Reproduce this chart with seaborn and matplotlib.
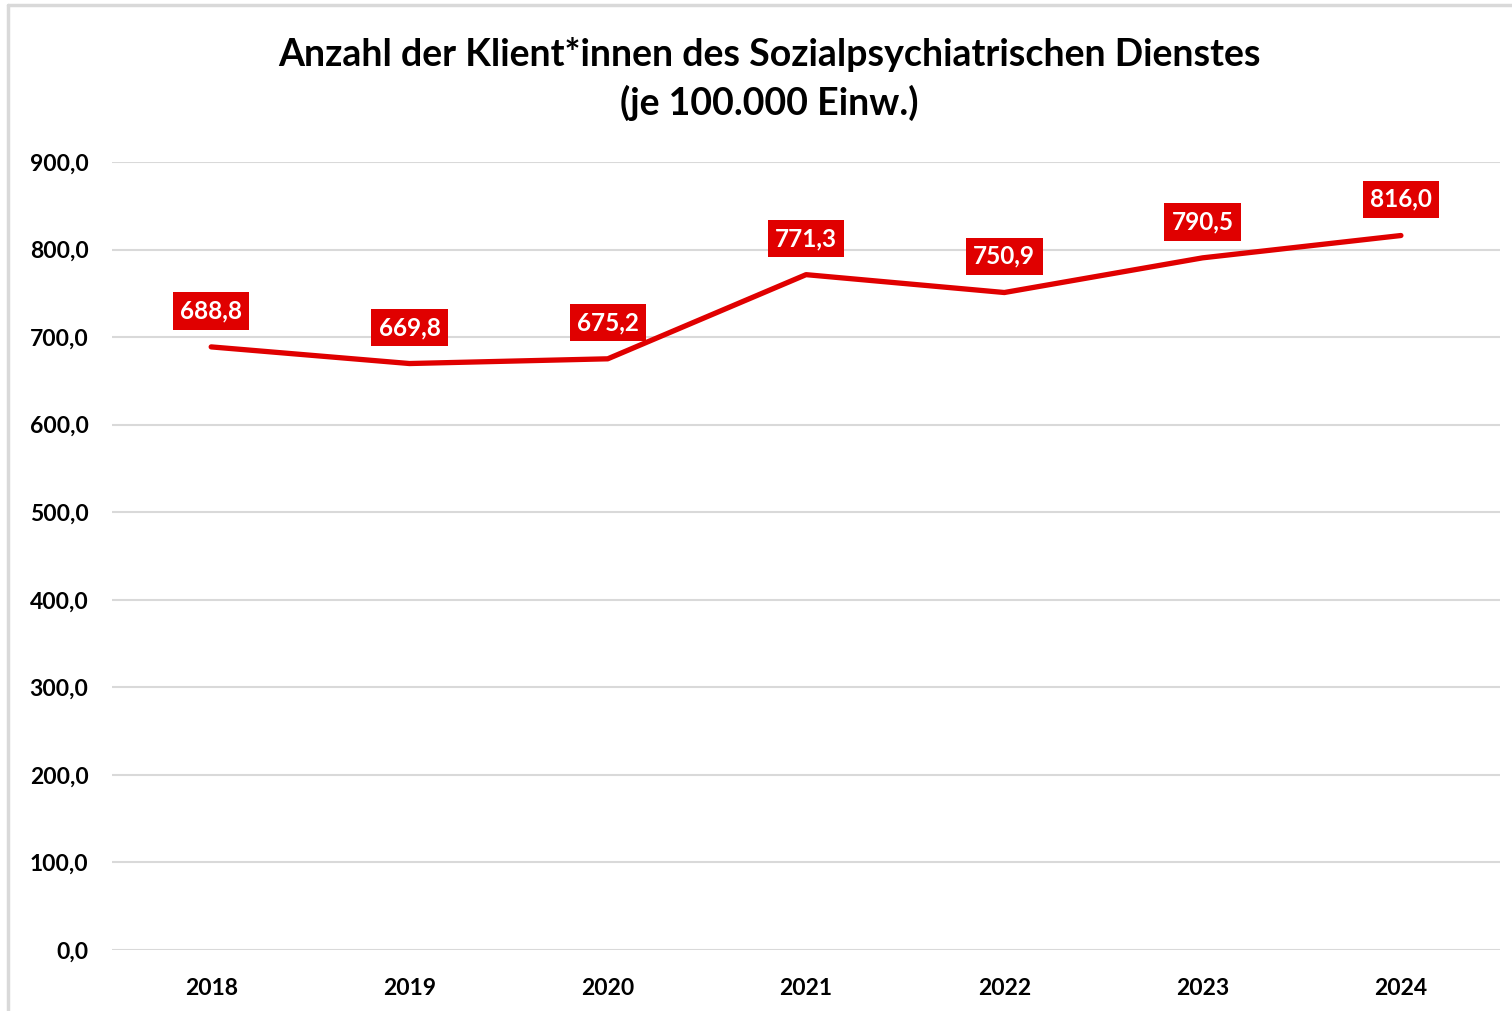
import matplotlib
matplotlib.use("Agg")
import matplotlib.pyplot as plt
import seaborn as sns
import pandas as pd
from matplotlib.lines import Line2D

# Daten
jahre = ["2018", "2019", "2020", "2021", "2022", "2023", "2024"]
klienten = [688.8, 669.8, 675.2, 771.3, 750.9, 790.5, 816.0]
y_ticks = [0, 100, 200, 300, 400, 500, 600, 700, 800, 900]

rot = "#e00000"

sns.set_theme(style="white")
plt.rcParams["font.family"] = ["Lato", "DejaVu Sans"]
plt.rcParams["font.weight"] = "bold"
plt.rcParams["text.color"] = "black"

df = pd.DataFrame({"jahr": jahre, "wert": klienten})

fig = plt.figure(figsize=(15.12, 10.11), dpi=100)
ax = fig.add_axes([0.0741, 0.0603, 0.918, 0.7795])

sns.lineplot(data=df, x="jahr", y="wert", color=rot, linewidth=3.8,
             sort=False, ax=ax, solid_capstyle="round")

ax.set_ylim(0, 900)
ax.set_xlim(-0.5, len(jahre) - 0.5)
ax.set_yticks(y_ticks)
ax.set_yticklabels([f"{v:.1f}".replace(".", ",") for v in y_ticks])
ax.grid(axis="y", color="#d9d9d9", linewidth=1.5)
ax.set_axisbelow(True)
for s in ax.spines.values():
    s.set_visible(False)
ax.tick_params(axis="both", length=0, labelsize=16.5, colors="black")
ax.tick_params(axis="y", pad=17)
ax.tick_params(axis="x", pad=20)
for lbl in ax.get_xticklabels() + ax.get_yticklabels():
    lbl.set_fontweight("bold")
ax.set_xlabel("")
ax.set_ylabel("")

# Datenbeschriftungen
for i, v in enumerate(klienten):
    ax.annotate(f"{v:.1f}".replace(".", ","), xy=(i, v), xytext=(0, 26),
                textcoords="offset points", ha="center", va="center",
                fontsize=17.5, fontweight="bold", color="white",
                bbox=dict(boxstyle="square,pad=0.3", fc=rot, ec="none"))

fig.text(0.509, 0.946, "Anzahl der Klient*innen des Sozialpsychiatrischen Dienstes",
         ha="center", va="center", fontsize=27, fontweight="bold", color="black")
fig.text(0.509, 0.898, "(je 100.000 Einw.)", ha="center", va="center",
         fontsize=27, fontweight="bold", color="black")

# Rahmen links und oben
fig.add_artist(Line2D([8 / 1512, 8 / 1512], [0, 1 - 5 / 1011],
                      transform=fig.transFigure, color="#d9d9d9", linewidth=2.5))
fig.add_artist(Line2D([8 / 1512, 1], [1 - 5 / 1011, 1 - 5 / 1011],
                      transform=fig.transFigure, color="#d9d9d9", linewidth=2.5))

fig.savefig("out.png", dpi=100)
